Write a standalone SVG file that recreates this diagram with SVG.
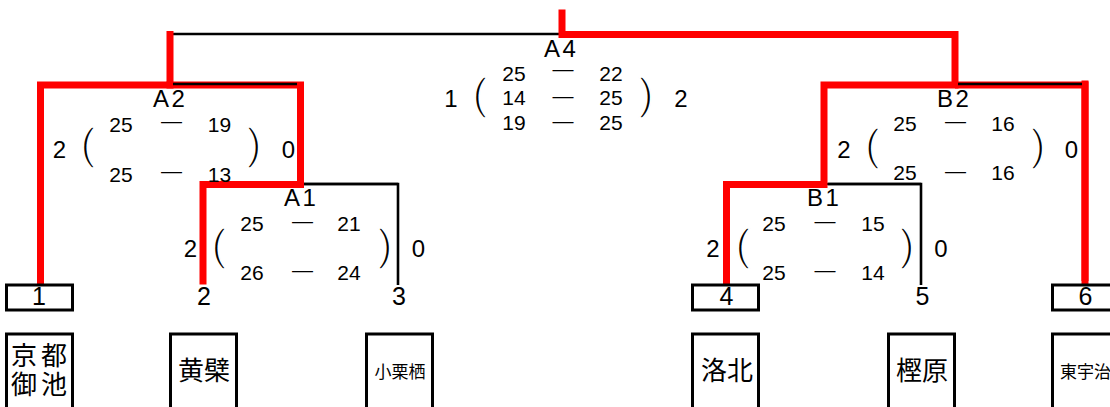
<svg xmlns="http://www.w3.org/2000/svg" width="1110" height="407" viewBox="0 0 1110 407">
<style>
.blk{fill:none;stroke:#000;stroke-width:2.6}
.red{fill:none;stroke:#f00;stroke-width:7;stroke-linejoin:miter;stroke-linecap:square}
.box{fill:#fff;stroke:#000;stroke-width:3}
text{font-family:"Liberation Sans",Arial,sans-serif;fill:#000}
.lbl{font-size:24px;letter-spacing:2.5px}
.big{font-size:24px;text-anchor:middle}
.sc{font-size:21px;text-anchor:middle}
.ds{font-size:21px;text-anchor:middle}
.pr{font-size:45px;text-anchor:middle;stroke:#fff;stroke-width:1.6px}
.num{font-size:25px;text-anchor:middle}
.jp{font-family:"Noto Sans CJK JP","Noto Sans CJK SC",sans-serif}
.t26{font-size:26px;text-anchor:middle}
.t17{font-size:17px}
</style>
<g id="connectors">
  <path class="blk" d="M170 34 H955"/>
  <path class="blk" d="M40 84 H300"/>
  <path class="blk" d="M203 184 H398 V285"/>
  <path class="blk" d="M824 84 H1085"/>
  <path class="blk" d="M726 184 H921 V285"/>
  <path class="red" d="M562 13 V34.5 H955 V85 H824 V184.5 H726.5 V281"/>
  <path class="red" d="M955 85 H1085 V281" style="stroke-linecap:butt"/>
  <path class="red" d="M1085 84 V281"/>
  <path class="red" d="M170 34.5 V85 H40.5 V281"/>
  <path class="red" d="M170 85 H300.5 V184.5 H203 V281"/>
  <path class="blk" d="M173 84 H297"/>
  <path class="blk" d="M958 84 H1082"/>
  <path class="blk" d="M304 184 H398"/>
  <path class="blk" d="M828 184 H921"/>
</g>
<g id="A4">
  <text class="lbl" x="544" y="57">A4</text>
  <text class="big" x="451" y="107">1</text>
  <text class="pr" x="480" y="109">(</text>
  <text class="sc" x="514" y="81">25</text><text class="ds" x="563" y="76">—</text><text class="sc" x="611" y="81">22</text>
  <text class="sc" x="514" y="105">14</text><text class="ds" x="563" y="103">—</text><text class="sc" x="611" y="105">25</text>
  <text class="sc" x="514" y="130">19</text><text class="ds" x="563" y="128">—</text><text class="sc" x="611" y="130">25</text>
  <text class="pr" x="646" y="109">)</text>
  <text class="big" x="681" y="107">2</text>
</g>
<g id="A2">
  <text class="lbl" x="153" y="107">A2</text>
  <text class="big" x="59.5" y="158">2</text>
  <text class="pr" x="88" y="159">(</text>
  <text class="sc" x="121" y="132">25</text><text class="ds" x="171.5" y="128">—</text><text class="sc" x="219.5" y="132">19</text>
  <text class="sc" x="121" y="182">25</text><text class="ds" x="171.5" y="178">—</text><text class="sc" x="219.5" y="182">13</text>
  <text class="pr" x="254" y="159">)</text>
  <text class="big" x="288.5" y="158">0</text>
</g>
<g id="A1">
  <text class="lbl" x="284" y="206">A1</text>
  <text class="big" x="190.5" y="257">2</text>
  <text class="pr" x="219" y="260">(</text>
  <text class="sc" x="252" y="231">25</text><text class="ds" x="302.5" y="228">—</text><text class="sc" x="349" y="231">21</text>
  <text class="sc" x="252" y="280">26</text><text class="ds" x="302.5" y="277">—</text><text class="sc" x="349" y="280">24</text>
  <text class="pr" x="385" y="260">)</text>
  <text class="big" x="418.5" y="257">0</text>
</g>
<g id="B2">
  <text class="lbl" x="937" y="107">B2</text>
  <text class="big" x="844" y="158">2</text>
  <text class="pr" x="872.5" y="160">(</text>
  <text class="sc" x="905" y="131">25</text><text class="ds" x="955.5" y="128">—</text><text class="sc" x="1003" y="131">16</text>
  <text class="sc" x="905" y="180">25</text><text class="ds" x="955.5" y="178">—</text><text class="sc" x="1003" y="180">16</text>
  <text class="pr" x="1038" y="160">)</text>
  <text class="big" x="1071.5" y="158">0</text>
</g>
<g id="B1">
  <text class="lbl" x="807" y="206">B1</text>
  <text class="big" x="713" y="257">2</text>
  <text class="pr" x="743" y="260">(</text>
  <text class="sc" x="774" y="231">25</text><text class="ds" x="825" y="228">—</text><text class="sc" x="873" y="231">15</text>
  <text class="sc" x="774" y="280">25</text><text class="ds" x="825" y="277">—</text><text class="sc" x="873" y="280">14</text>
  <text class="pr" x="907" y="260">)</text>
  <text class="big" x="941" y="257">0</text>
</g>
<g id="seed1">
  <rect class="box" x="6.5" y="285" width="66" height="25"/>
  <text class="num" x="39" y="305">1</text>
  <rect class="box" x="6.5" y="334" width="66" height="90"/>
  <text class="jp" x="11" y="365" style="font-size:26px;letter-spacing:4px">京都</text>
  <text class="jp" x="11" y="394" style="font-size:26px;letter-spacing:4px">御池</text>
</g>
<g id="seed2">
  <text class="num" x="204" y="305">2</text>
  <rect class="box" x="170.5" y="334" width="66" height="90"/>
  <text class="jp t26" x="204" y="380">黄檗</text>
</g>
<g id="seed3">
  <text class="num" x="399" y="305">3</text>
  <rect class="box" x="366.5" y="334" width="66" height="90"/>
  <text class="jp t17" x="400" y="378" text-anchor="middle">小栗栖</text>
</g>
<g id="seed4">
  <rect class="box" x="692.5" y="285" width="66" height="25"/>
  <text class="num" x="726.5" y="305">4</text>
  <rect class="box" x="692.5" y="334" width="66" height="90"/>
  <text class="jp t26" x="727" y="380">洛北</text>
</g>
<g id="seed5">
  <text class="num" x="922.5" y="305">5</text>
  <rect class="box" x="888.5" y="334" width="66" height="90"/>
  <text class="jp t26" x="922" y="380">樫原</text>
</g>
<g id="seed6">
  <rect class="box" x="1052.5" y="285" width="70" height="25"/>
  <text class="num" x="1085.5" y="305">6</text>
  <rect class="box" x="1052.5" y="334" width="70" height="90"/>
  <text class="jp t17" x="1060" y="378">東宇治</text>
</g>
</svg>
